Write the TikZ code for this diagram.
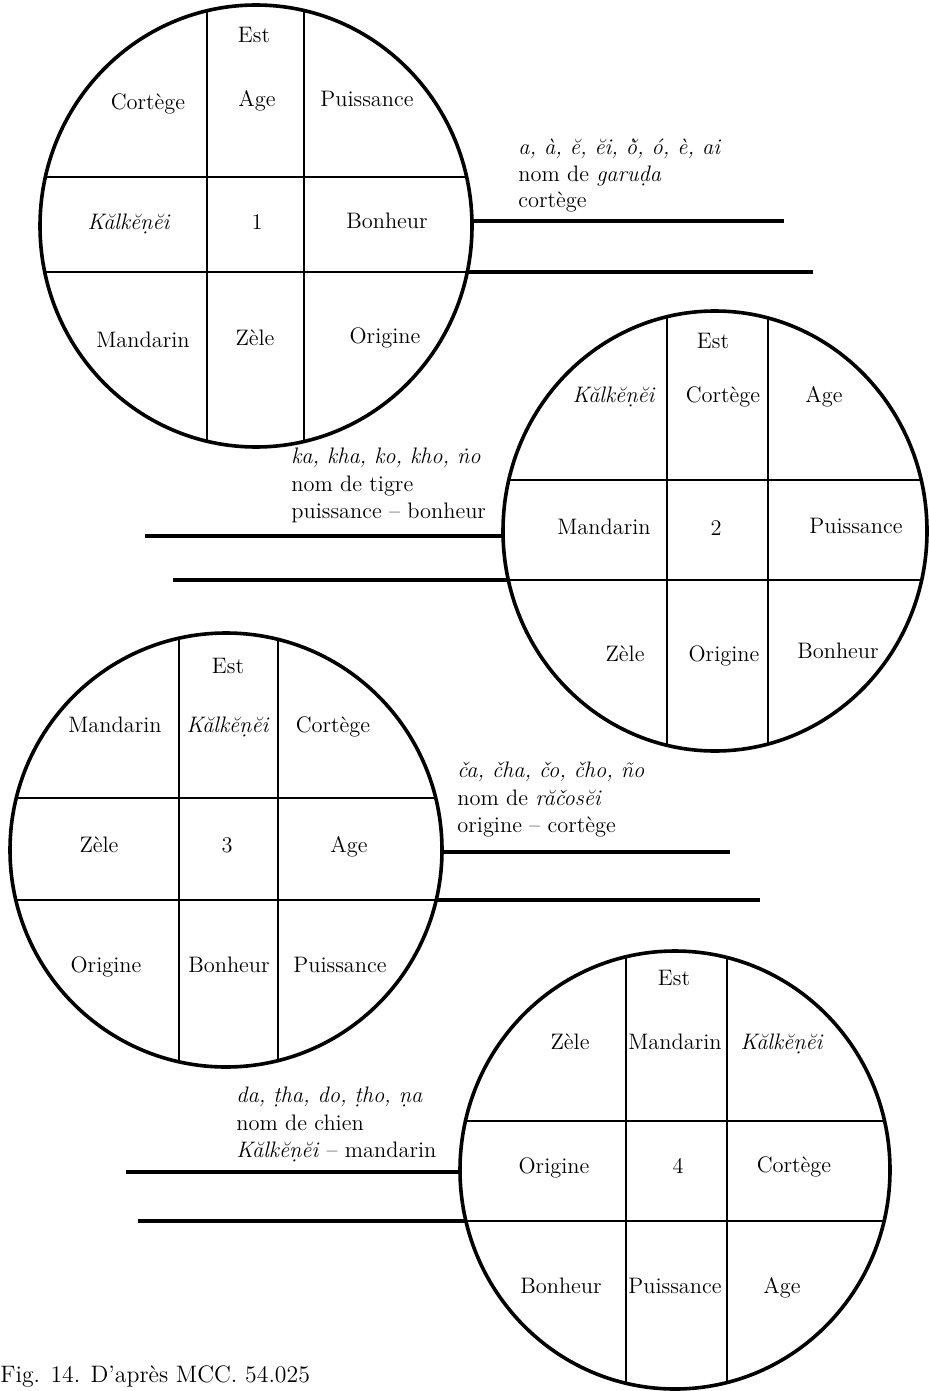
\documentclass[tikz,border=0pt]{standalone}
\usepackage{fontspec}
\usetikzlibrary{shapes.geometric}

\tikzset{
  ring/.style={ellipse, draw, line width=1.8pt, inner sep=0pt, outer sep=0pt},
  rule/.style={line width=1.45pt},
  lead/.style={line width=1.6pt},
  txt/.style={inner sep=0pt, font=\fontsize{11.2}{13.3}\selectfont},
  lab/.style={txt, anchor=base},
  note/.style={txt, anchor=base west},
}
\newcommand\kal{\textit{Kălkĕṇĕi}}

% #1 name, #2 #3 centre, #4 #5 radii, #6 #7 vertical rules, #8 #9 horizontal rules
\newcommand\quadring[9]{%
  \begin{scope}
    \clip (#2,#3) ellipse [x radius=#4, y radius=#5];
    \draw[rule] (#6,{#3-#5-5}) -- (#6,{#3+#5+5});
    \draw[rule] (#7,{#3-#5-5}) -- (#7,{#3+#5+5});
    \draw[rule] ({#2-#4-5},#8) -- ({#2+#4+5},#8);
    \draw[rule] ({#2-#4-5},#9) -- ({#2+#4+5},#9);
  \end{scope}
  \node[ring, minimum width=#4pt, minimum height=#5pt] (#1) at (#2,#3) {};
}

\begin{document}
\begin{tikzpicture}[x=0.5pt, y=-0.5pt]
\useasboundingbox (0,0) rectangle (928,1391);

% ---- wheel 1 ----
\quadring{c1}{256}{226}{216}{221}{207}{304}{177}{272}
\foreach \px/\py/\t [count=\i] in {254/43/Est, 148/110/Cortège, 257/107/Age,
    367/107/Puissance, 129/229/\kal, 257/229/1, 387/228/Bonheur,
    143/347/Mandarin, 255/345/Zèle, 385/343/Origine}
  \node[lab] (c1l\i) at (\px,\py) {\t};
\coordinate (e1u) at (784,221);
\coordinate (e1d) at (813,272);
\draw[lead] (c1.1.33 |- e1u) -- (e1u);
\draw[lead] (c1.-12.28 |- e1d) -- (e1d);
\node[note] (n1a) at (518,155) {\textit{a, à, ĕ, ĕi, ŏ̀, ó, è, ai}};
\node[note] (n1b) at (518,182) {nom de \textit{garuḍa}};
\node[note] (n1c) at (518,208) {cortège};

% ---- wheel 2 ----
\quadring{c2}{715}{531}{212}{220}{667}{768}{480}{580}
\foreach \px/\py/\t [count=\i] in {713/348/Est, 614/402/\kal, 723/402/Cortège,
    824/402/Age, 604/534/Mandarin, 716/535/2, 856/533/Puissance,
    625/661/Zèle, 724/661/Origine, 838/658/Bonheur}
  \node[lab] (c2l\i) at (\px,\py) {\t};
\coordinate (e2u) at (145,536);
\coordinate (e2d) at (173,580);
\draw[lead] (c2.181.35 |- e2u) -- (e2u);
\draw[lead] (c2.193.34 |- e2d) -- (e2d);
\node[note] (n2a) at (291,463) {\textit{ka, kha, ko, kho, ṅo}};
\node[note] (n2b) at (291,491) {nom de tigre};
\node[note] (n2c) at (291,518) {puissance -- bonheur};

% ---- wheel 3 ----
\quadring{c3}{226}{850}{216}{217}{179}{278}{798}{900}
\foreach \px/\py/\t [count=\i] in {228/673/Est, 115/732/Mandarin, 228/732/\kal,
    333/732/Cortège, 99/852/Zèle, 227/852/3, 349/852/Age,
    106/972/Origine, 229/972/Bonheur, 340/972/Puissance}
  \node[lab] (c3l\i) at (\px,\py) {\t};
\coordinate (e3u) at (730,852);
\coordinate (e3d) at (760,900);
\draw[lead] (c3.-0.53 |- e3u) -- (e3u);
\draw[lead] (c3.-13.38 |- e3d) -- (e3d);
\node[note] (n3a) at (457,777) {\textit{ča, čha, čo, čho, ño}};
\node[note] (n3b) at (457,805) {nom de \textit{răčosĕi}};
\node[note] (n3c) at (457,832) {origine -- cortège};

% ---- wheel 4 ----
\quadring{c4}{675}{1170}{215}{219}{626}{727}{1121}{1221}
\foreach \px/\py/\t [count=\i] in {674/985/Est, 570/1049/Zèle, 675/1049/Mandarin,
    782/1049/\kal, 554/1173/Origine, 678/1173/4, 794/1172/Cortège,
    561/1293/Bonheur, 675/1293/Puissance, 782/1293/Age}
  \node[lab] (c4l\i) at (\px,\py) {\t};
\coordinate (e4u) at (126,1172);
\coordinate (e4d) at (138,1221);
\draw[lead] (c4.180.53 |- e4u) -- (e4u);
\draw[lead] (c4.193.71 |- e4d) -- (e4d);
\node[note] (n4a) at (236,1102) {\textit{da, ṭha, do, ṭho, ṇa}};
\node[note] (n4b) at (236,1130) {nom de chien};
\node[note] (n4c) at (236,1157) {\kal{} -- mandarin};

% ---- caption ----
\node[note, font=\fontsize{11.9}{14}\selectfont] (cap) at (0,1382) {Fig. 14. D'après MCC. 54.025};
\end{tikzpicture}
\end{document}
